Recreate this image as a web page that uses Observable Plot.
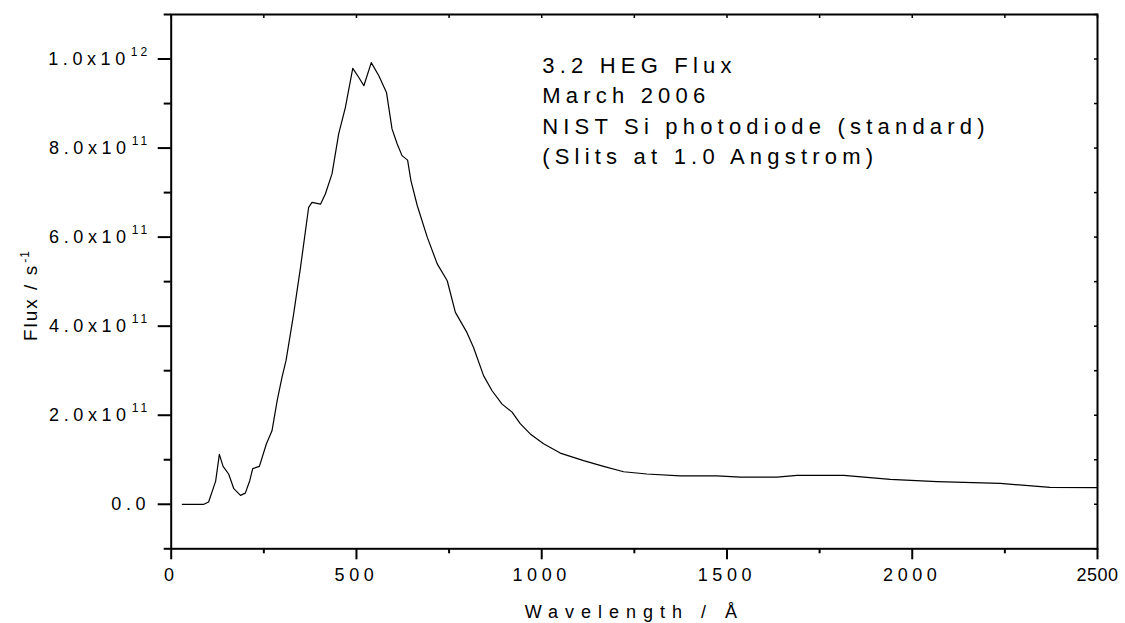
<!DOCTYPE html>
<html>
<head>
<meta charset="utf-8">
<script src="https://cdn.jsdelivr.net/npm/d3@7"></script>
<script src="https://cdn.jsdelivr.net/npm/@observablehq/plot@0.6"></script>
<style>
  html, body { margin: 0; padding: 0; background: #fff; }
  g[aria-label="x-axis tick label"] text,
  g[aria-label="y-axis tick label"] text { letter-spacing: 4.6px; }
</style>
</head>
<body>
<div id="chart"></div>
<script>
// Wavelength (Å)
const wavelength = [30, 88, 101, 120, 130, 140, 155, 169, 187, 200, 212, 220, 238, 257, 272, 286, 299, 310, 330, 349,
  371, 380, 403, 416, 434, 452, 470, 490, 506, 520, 540, 560, 581, 596, 610, 623, 638, 647, 664, 691,
  718, 745, 767, 798, 816, 843, 866, 893, 920, 942, 969, 1005, 1050, 1113, 1167, 1221, 1284, 1374, 1473, 1536,
  1635, 1689, 1815, 1941, 2067, 2237, 2372, 2500];
// Flux (s^-1)
const flux = [0, 0, 0.005e12, 0.052e12, 0.112e12, 0.085e12, 0.068e12, 0.035e12, 0.020e12, 0.025e12, 0.053e12, 0.080e12, 0.085e12, 0.136e12, 0.165e12, 0.233e12, 0.285e12, 0.323e12, 0.425e12, 0.532e12,
  0.667e12, 0.678e12, 0.674e12, 0.697e12, 0.742e12, 0.832e12, 0.891e12, 0.979e12, 0.959e12, 0.940e12, 0.992e12, 0.963e12, 0.925e12, 0.843e12, 0.809e12, 0.783e12, 0.773e12, 0.727e12, 0.671e12, 0.600e12,
  0.540e12, 0.502e12, 0.431e12, 0.386e12, 0.352e12, 0.289e12, 0.255e12, 0.225e12, 0.207e12, 0.181e12, 0.158e12, 0.136e12, 0.115e12, 0.098e12, 0.085e12, 0.073e12, 0.068e12, 0.064e12, 0.064e12, 0.061e12,
  0.061e12, 0.065e12, 0.065e12, 0.056e12, 0.051e12, 0.047e12, 0.038e12, 0.0375e12];

const xMajorTicks = [0, 500, 1000, 1500, 2000, 2500];
const xMinorTicks = [250, 750, 1250, 1750, 2250];
const xTopTicks = [0, 250, 500, 750, 1000, 1250, 1500, 1750, 2000, 2250, 2500];
const yMajorTicks = [0, 2e11, 4e11, 6e11, 8e11, 1e12];
const yMajorLabels = ["0.0", "2.0x10^11", "4.0x10^11", "6.0x10^11", "8.0x10^11", "1.0x10^12"];
const yMinorTicks = [-1e11, 1e11, 3e11, 5e11, 7e11, 9e11, 1.1e12];
const yRightTicks = [-1e11, 0, 1e11, 2e11, 3e11, 4e11, 5e11, 6e11, 7e11, 8e11, 9e11, 1e12, 1.1e12];

const annotation = "3.2 HEG Flux\nMarch 2006\nNIST Si photodiode (standard)\n(Slits at 1.0 Angstrom)";
const xTitle = "Wavelength / Å";
const yTitle = "Flux / s^-1";

const data = wavelength.map((w, i) => ({w, f: flux[i]}));
const yLabelMap = new Map(yMajorTicks.map((v, i) => [v, yMajorLabels[i]]));

const chart = Plot.plot({
  width: 1125,
  height: 623,
  marginLeft: 170.7,
  marginRight: 28,
  marginTop: 14,
  marginBottom: 74.7,
  x: {domain: [0, 2500]},
  y: {domain: [-1e11, 1.1e12]},
  style: {fontFamily: "'Liberation Sans', Arial, sans-serif", fontSize: "18px", color: "black", background: "white"},
  marks: [
    Plot.axisX(xMajorTicks, {tickSize: 11, tickPadding: 8, strokeWidth: 2, tickFormat: d => String(d), label: null}),
    Plot.axisX(xMinorTicks, {tickSize: 5, strokeWidth: 2, tickFormat: () => "", label: null}),
    Plot.axisX(xTopTicks, {anchor: "top", tickSize: 3, dy: 3, strokeWidth: 1.5, tickFormat: () => "", label: null}),
    Plot.axisY(yMajorTicks, {tickSize: 13, tickPadding: 8, strokeWidth: 2, tickFormat: d => yLabelMap.get(d), label: null}),
    Plot.axisY(yMinorTicks, {tickSize: 7, strokeWidth: 2, tickFormat: () => "", label: null}),
    Plot.axisY(yRightTicks, {anchor: "right", tickSize: 4, dx: -4, strokeWidth: 1.5, tickFormat: () => "", label: null}),
    Plot.frame({stroke: "black", strokeWidth: 2}),
    Plot.line(data, {x: "w", y: "f", stroke: "black", strokeWidth: 1.2}),
    Plot.text([annotation], {frameAnchor: "top-left", dx: 371, dy: 37, textAnchor: "start", lineAnchor: "top", lineHeight: 1.382, fontSize: 22, fill: "black"}),
    Plot.text([xTitle], {frameAnchor: "bottom", dy: 69, fontSize: 18, fill: "black"}),
    Plot.text([yTitle], {frameAnchor: "left", textAnchor: "middle", lineAnchor: "middle", rotate: -90, dx: -140, dy: 14, fontSize: 19, fill: "black"})
  ]
});

document.getElementById("chart").appendChild(chart);

// letter spacing for text marks (annotation, x title, y title)
const textGroups = chart.querySelectorAll('g[aria-label="text"]');
const spacings = ["5.2px", "7px", "2px"];
textGroups.forEach((g, i) => { g.style.letterSpacing = spacings[i] || "0px"; });

// the last x tick label sits at the edge: tighten it
const xLabels = chart.querySelectorAll('g[aria-label="x-axis tick label"] text');
xLabels.forEach(t => { if (t.textContent === "2500") t.style.letterSpacing = "0.5px"; });

// superscripts
const NS = "http://www.w3.org/2000/svg";
chart.querySelectorAll("text").forEach(t => {
  if (t.children.length === 0 && t.textContent.includes("^")) {
    const [base, sup] = t.textContent.split("^");
    const isTitle = t.closest('g[aria-label="text"]') != null;
    t.textContent = base;
    const ts = document.createElementNS(NS, "tspan");
    ts.textContent = sup;
    ts.setAttribute("font-size", "12");
    ts.setAttribute("dy", isTitle ? "-8" : "-9");
    ts.setAttribute("dx", "1");
    ts.style.letterSpacing = isTitle ? "1px" : "3px";
    t.appendChild(ts);
  }
});
</script>
</body>
</html>
